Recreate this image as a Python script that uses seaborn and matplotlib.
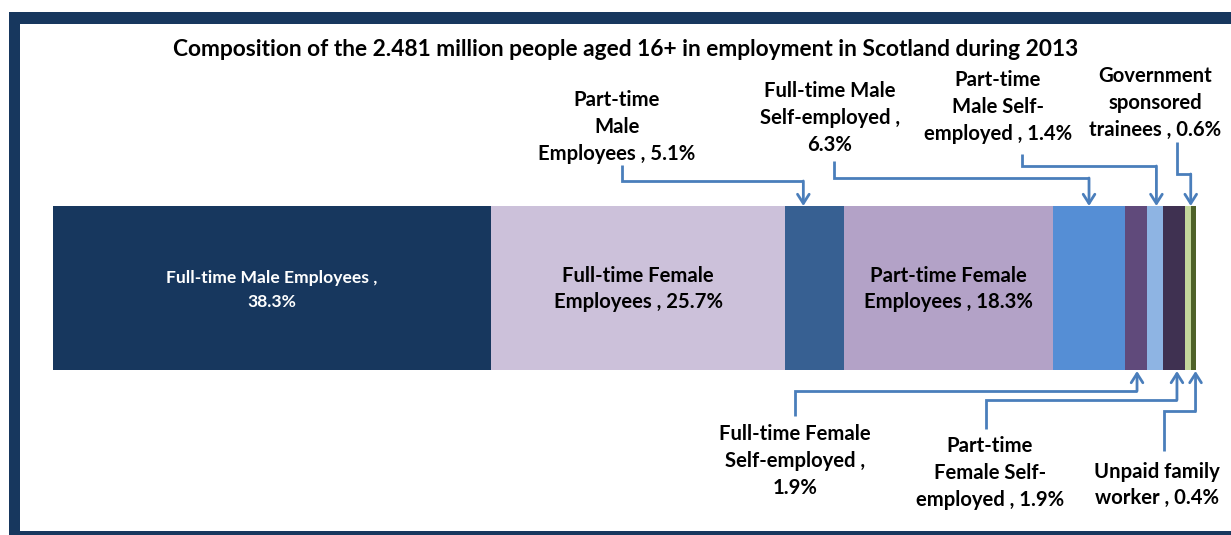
import matplotlib
matplotlib.use("Agg")
import matplotlib.pyplot as plt
import seaborn as sns
import numpy as np
import pandas as pd
from matplotlib.patches import Rectangle
from matplotlib.transforms import Affine2D

# ---- data -------------------------------------------------------------
categories = [
    "Full-time Male Employees",
    "Full-time Female Employees",
    "Part-time Male Employees",
    "Part-time Female Employees",
    "Full-time Male Self-employed",
    "Full-time Female Self-employed",
    "Part-time Male Self-employed",
    "Part-time Female Self-employed",
    "Government sponsored trainees",
    "Unpaid family worker",
]
shares = [38.3, 25.7, 5.1, 18.3, 6.3, 1.9, 1.4, 1.9, 0.6, 0.4]
colors = ["#17375E", "#CCC1DA", "#376092", "#B3A2C7", "#558ED5",
          "#604A7B", "#8EB4E3", "#3F3151", "#C3D69B", "#4F6228"]
title = "Composition of the 2.481 million people aged 16+ in employment in Scotland during 2013"

# label text for each segment (category name broken over lines + value)
label_lines = [
    ["Full-time Male Employees ,", "{v}"],
    ["Full-time Female", "Employees , {v}"],
    ["Part-time", "Male", "Employees , {v}"],
    ["Part-time Female", "Employees , {v}"],
    ["Full-time Male", "Self-employed ,", "{v}"],
    ["Full-time Female", "Self-employed ,", "{v}"],
    ["Part-time", "Male Self-", "employed , {v}"],
    ["Part-time", "Female Self-", "employed , {v}"],
    ["Government", "sponsored", "trainees , {v}"],
    ["Unpaid family", "worker , {v}"],
]

# ---- figure -----------------------------------------------------------
W, H = 1231, 535
sns.set_theme(style="white")
plt.rcParams["font.family"] = ["Lato", "DejaVu Sans"]
plt.rcParams["font.weight"] = "bold"

fig = plt.figure(figsize=(W / 100, H / 100), dpi=100)
ax = fig.add_axes([0, 0, 1, 1])
# pixel coordinates, origin top-left
px = Affine2D().scale(1 / W, -1 / H).translate(0, 1) + fig.transFigure

df = pd.DataFrame({"category": categories, "share": shares})
df["end"] = df["share"].cumsum()
df["start"] = df["end"] - df["share"]

# stacked bar: widest cumulative bar first, narrower ones on top
for i in reversed(range(len(df))):
    sns.barplot(x=[df["end"][i]], y=["2013"], orient="h", color=colors[i],
                width=0.8, saturation=1, linewidth=0, ax=ax)

BAR_L, BAR_R = 53, 1196
scale = (BAR_R - BAR_L) / df["end"].iloc[-1]
ax.set_xlim(-BAR_L / scale, (W - BAR_L) / scale)
unit = 164 / 0.8
ax.set_ylim((H - 288) / unit, -288 / unit)
ax.axis("off")


def xpix(i, frac=0.5):
    return BAR_L + (df["start"][i] + frac * df["share"][i]) * scale


def label(i):
    v = f"{df['share'][i]:.1f}%"
    return "\n".join(s.format(v=v) for s in label_lines[i])


FS = 14.6
LS = 1.42

# title
ax.text(626, 50, title, transform=px, ha="center", va="center",
        fontsize=16.4, color="black")

# labels inside the wide segments
ax.text(xpix(0), 290, label(0), transform=px, ha="center", va="center",
        fontsize=12.6, color="white", linespacing=1.55)
for i in (1, 3):
    ax.text(xpix(i), 289, label(i), transform=px, ha="center", va="center",
            fontsize=FS, color="black", linespacing=LS)

# outside labels: (segment, text centre x, text centre y)
outer = [(2, 617, 127), (4, 830, 118), (6, 998, 107), (8, 1155, 103),
         (5, 795, 461), (7, 990, 473), (9, 1157, 485)]
for i, tx, ty in outer:
    ax.text(tx, ty, label(i), transform=px, ha="center", va="center",
            fontsize=FS, color="black", linespacing=LS,
            multialignment="center")

# elbow connectors: (segment, start x, start y, elbow y, tip fraction, tip y)
links = [(2, 622, 165, 181, 0.31, 206), (4, 834, 161, 178, 0.5, 206),
         (6, 1022, 154, 166, 0.6, 206), (8, 1177, 142, 174, 0.9, 206),
         (5, 795, 416, 391, 0.55, 371), (7, 986, 429, 400, 0.65, 371),
         (9, 1164, 451, 411, 0.9, 371)]
lc = "#4A7EBB"
for i, x0, y0, ye, frac, yt in links:
    xt = xpix(i, frac)
    ax.plot([x0, x0, xt], [y0, ye, ye], transform=px, color=lc, lw=2.0,
            solid_joinstyle="miter", solid_capstyle="butt")
    ax.annotate("", xy=(xt, yt), xytext=(xt, ye), xycoords=px, textcoords=px,
                arrowprops=dict(arrowstyle="->,head_length=0.55,head_width=0.35",
                                color=lc, lw=2.0, shrinkA=0, shrinkB=0))

# dark frame around the chart area
frame = "#17375E"
for x, y, w, h in [(9, 12, W - 9, 12), (9, 12, 11, H - 12), (9, 531, W - 9, 4)]:
    fig.patches.append(Rectangle((x, y), w, h, transform=px, color=frame, lw=0))

fig.savefig("out.png", dpi=100)
